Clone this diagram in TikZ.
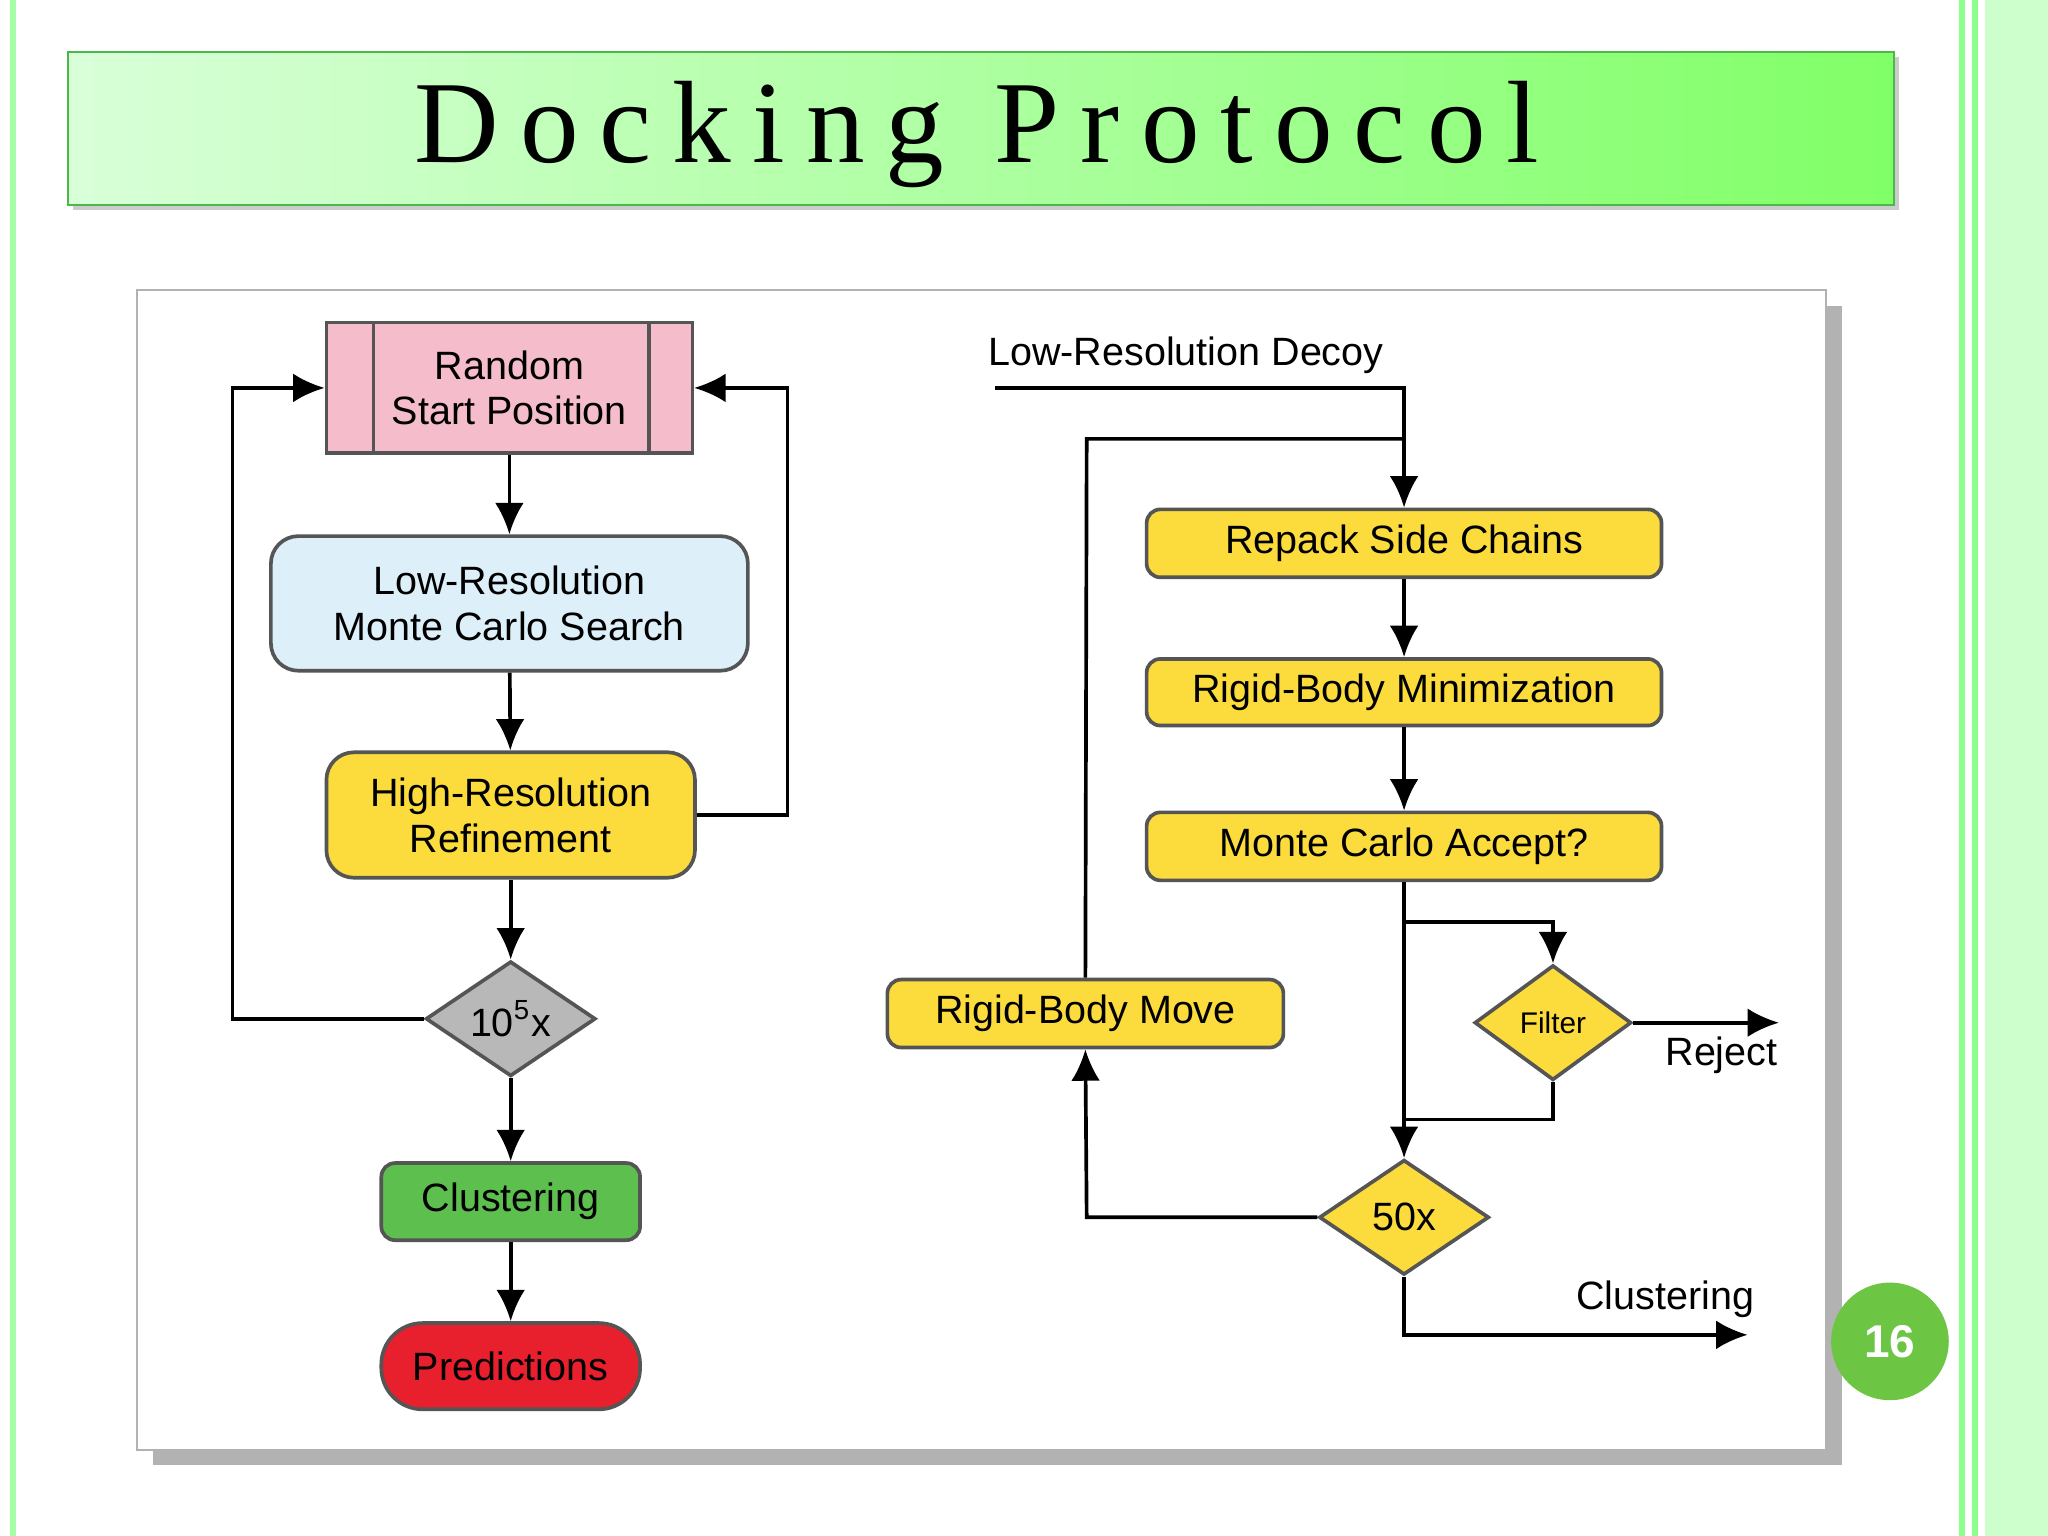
\documentclass[tikz,border=0pt]{standalone}
\usepackage{fontspec}
\setmainfont{Liberation Sans}
\newfontfamily\titlefont{Liberation Serif}[LetterSpace=18]
\usetikzlibrary{shapes.geometric,arrows.meta}
\definecolor{pinkbox}{HTML}{F5BCCB}
\definecolor{bluebox}{HTML}{DDEFF8}
\definecolor{yelbox}{HTML}{FCDC3C}
\definecolor{greenbox}{HTML}{5CBF4E}
\definecolor{redbox}{HTML}{E8202E}
\definecolor{graybox}{HTML}{B8B8B8}
\definecolor{edgegray}{HTML}{555555}
\definecolor{pagegreen}{HTML}{6CC644}
\tikzset{
  box/.style={draw=edgegray, thick, font=\fontsize{8.6}{10}\selectfont, align=center, inner sep=0pt},
  dia/.style={diamond, draw=edgegray, thick, font=\fontsize{8.6}{10}\selectfont, aspect=1.48, inner sep=0pt},
  arr/.style={-{Latex[length=2.4mm,width=2.2mm]}, thick, black},
  ln/.style={thick, black}
}
\begin{document}
\begin{tikzpicture}[x=0.01cm, y=-0.01cm]
\useasboundingbox (0,0) rectangle (1568,1176);
% slide frame
\fill[green!20!white] (1520,0) rectangle (1568,1176);
\draw[green!45!white, line width=1.2pt] (1502,0) -- (1502,1176);
\draw[green!45!white, line width=1.2pt] (1512,0) -- (1512,1176);
\draw[green!35!white, line width=1.2pt] (10,0) -- (10,1176);
% title
\fill[gray!40] (56,44) rectangle (1454,161);
\shade[left color=green!15!white, right color=green!55!white!90!yellow, draw=green!60!black!70]
  (52,40) rectangle (1450,157);
\node[font=\titlefont\fontsize{25.5}{30}\selectfont] (title) at (748,103) {Docking Protocol};
% panel
\fill[gray!60] (117,234) rectangle (1410,1122);
\fill[white, draw=gray!60] (105,222) rectangle (1398,1110);
% left column
\node[box, fill=pinkbox, minimum width=2.8cm, minimum height=1cm] (rsp) at (390,297) {Random\\Start Position};
\draw[edgegray, thick] (286,247) -- (286,347) (497,247) -- (497,347);
\node[box, fill=bluebox, rounded corners=6pt, minimum width=3.65cm, minimum height=1.03cm] (lrmc) at (390,462) {Low-Resolution\\Monte Carlo Search};
\node[box, fill=yelbox, rounded corners=6pt, minimum width=2.82cm, minimum height=0.96cm] (hrr) at (391,624) {High-Resolution\\Refinement};
\node[dia, fill=graybox, minimum width=1.3cm, minimum height=0.88cm] (rep) at (391,780) {10\textsuperscript{5}x};
\node[box, fill=greenbox, rounded corners=3pt, minimum width=1.98cm, minimum height=0.59cm] (clu) at (391,920) {Clustering};
\node[box, fill=redbox, rounded corners=9pt, minimum width=1.98cm, minimum height=0.66cm] (pred) at (391,1046) {Predictions};
\draw[arr] (rsp) -- (lrmc);
\draw[arr] (lrmc) -- (hrr);
\draw[arr] (hrr) -- (rep);
\draw[arr] (rep) -- (clu);
\draw[arr] (clu) -- (pred);
\draw[arr] (rep.west) -- (178,780) -- (178,297) -- (rsp.west);
\draw[arr] (hrr.east) -- (603,624) -- (603,297) -- (rsp.east);
% right column
\node[font=\fontsize{8.6}{10}\selectfont] (lrd) at (908,272) {Low-Resolution Decoy};
\coordinate (lrdstart) at (762,297);
\node[box, fill=yelbox, rounded corners=3pt, minimum width=3.94cm, minimum height=0.52cm] (rsc) at (1075,416) {Repack Side Chains};
\node[box, fill=yelbox, rounded corners=3pt, minimum width=3.94cm, minimum height=0.51cm] (rbm) at (1075,530) {Rigid-Body Minimization};
\node[box, fill=yelbox, rounded corners=3pt, minimum width=3.94cm, minimum height=0.52cm] (mca) at (1075,648) {Monte Carlo Accept?};
\node[box, fill=yelbox, rounded corners=3pt, minimum width=3.03cm, minimum height=0.52cm] (move) at (831,776) {Rigid-Body Move};
\node[dia, fill=yelbox, minimum width=1.2cm, minimum height=0.88cm, font=\fontsize{6.5}{8}\selectfont] (filt) at (1189,783) {Filter};
\node[dia, fill=yelbox, minimum width=1.3cm, minimum height=0.88cm] (fifty) at (1075,932) {50x};
\coordinate (rejend) at (1362,783);
\coordinate (cluend) at (1338,1022);
\node[font=\fontsize{8.6}{10}\selectfont] (rej) at (1318,808) {Reject};
\node[font=\fontsize{8.6}{10}\selectfont] (clut) at (1275,995) {Clustering};
\draw[arr] (lrdstart) -- (1075,297) -- (rsc.north);
\draw[arr] (rsc) -- (rbm);
\draw[arr] (rbm) -- (mca);
\draw[arr] (mca) -- (fifty);
\draw[arr] (1075,706) -- (1189,706) -- (filt.north);
\draw[arr] (filt.east) -- (rejend);
\draw[ln] (filt.south) -- (1189,857) -- (1075,857);
\draw[arr] (fifty.west) -- (832,932) -- (move.south);
\draw[ln] (move.north) -- (832,336) -- (1075,336);
\draw[arr] (fifty.south) -- (1075,1022) -- (cluend);
% page number
\node[circle, fill=pagegreen, minimum size=0.9cm, text=white, font=\bfseries\fontsize{10}{12}\selectfont] (pg) at (1447,1027) {16};
\end{tikzpicture}
\end{document}
